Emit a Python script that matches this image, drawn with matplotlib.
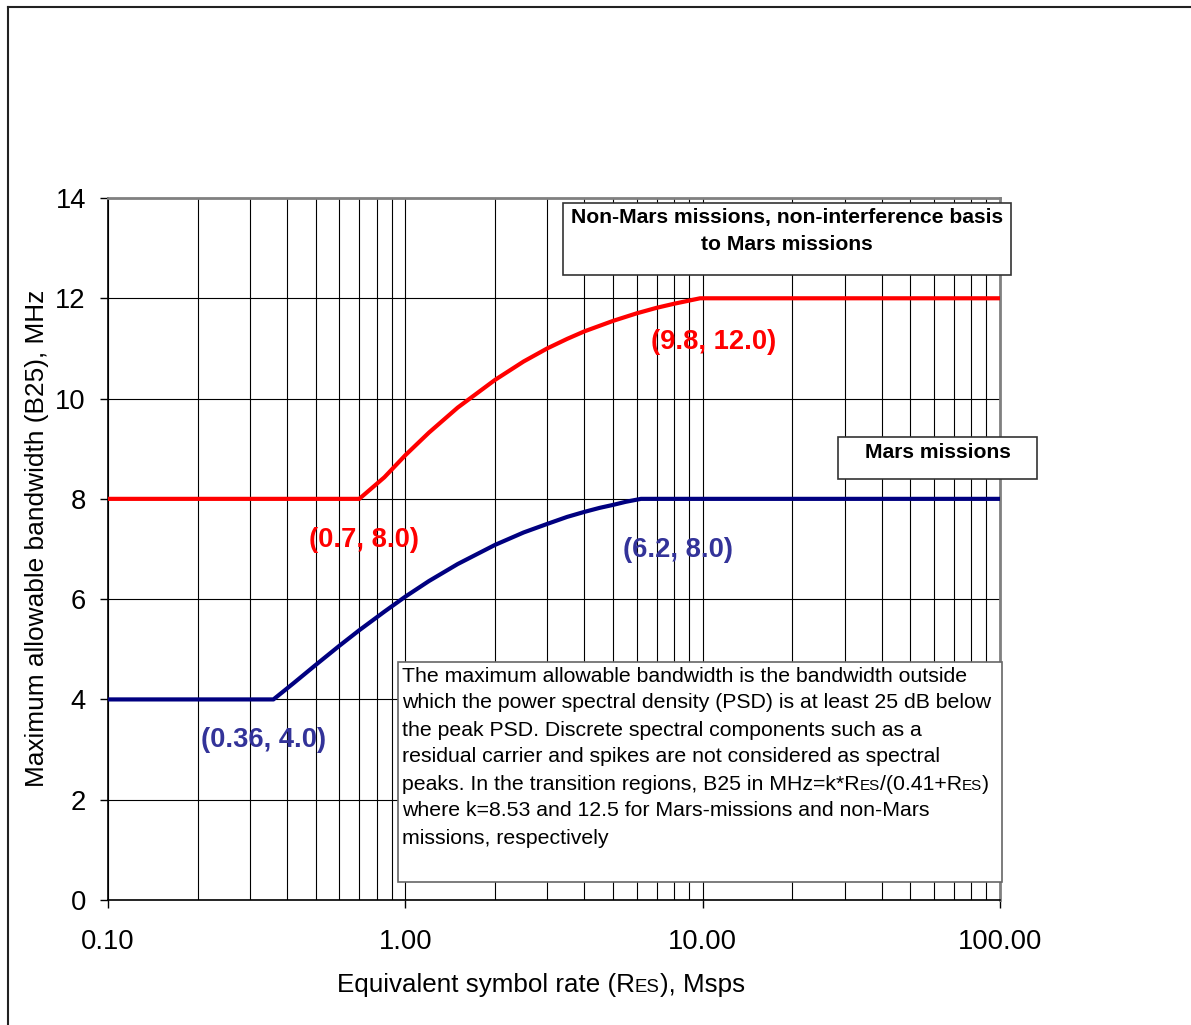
import re
import numpy as np
import matplotlib
matplotlib.use("Agg")
import matplotlib.pyplot as plt
from matplotlib.patches import Rectangle
from matplotlib.lines import Line2D
from matplotlib.offsetbox import TextArea, HPacker, AnnotationBbox
from matplotlib.ticker import FixedLocator, FuncFormatter, NullFormatter, LogLocator

plt.rcParams['font.family'] = ['Liberation Sans', 'DejaVu Sans']

# values
mars_rate = [0.1, 0.36, 0.42, 0.5, 0.6, 0.7, 0.85, 1.0, 1.2, 1.5, 2.0, 2.5, 3.0, 3.5,
             4.0, 4.5, 5.0, 5.5, 6.2, 100.0]
mars_bw = [4.0, 4.0, 4.32, 4.69, 5.07, 5.38, 5.75, 6.05, 6.36, 6.70, 7.08, 7.33, 7.50,
           7.64, 7.74, 7.82, 7.88, 7.94, 8.0, 8.0]
nonmars_rate = [0.1, 0.7, 0.85, 1.0, 1.2, 1.5, 2.0, 2.5, 3.0, 3.5, 4.0, 5.0, 6.0, 7.0,
                8.0, 9.8, 100.0]
nonmars_bw = [8.0, 8.0, 8.43, 8.87, 9.32, 9.82, 10.37, 10.74, 11.0, 11.19, 11.34, 11.55,
              11.70, 11.81, 11.89, 12.0, 12.0]

corner_x = [9.8, 0.7, 6.2, 0.36]
corner_y = [12.0, 8.0, 8.0, 4.0]
corner_text = ['(9.8, 12.0)', '(0.7, 8.0)', '(6.2, 8.0)', '(0.36, 4.0)']

x_ticks = [0.1, 1, 10, 100]
y_ticks = [0, 2, 4, 6, 8, 10, 12, 14]

nonmars_title = ['Non-Mars missions, non-interference basis', 'to Mars missions']
mars_title = 'Mars missions'
desc_lines = [
    "The maximum allowable bandwidth is the bandwidth outside",
    "which the power spectral density (PSD) is at least 25 dB below",
    "the peak PSD. Discrete spectral components such as a",
    "residual carrier and spikes are not considered as spectral",
    "peaks. In the transition regions, B25 in MHz=k*R{ES}/(0.41+R{ES})",
    "where k=8.53 and 12.5 for Mars-missions and non-Mars",
    "missions, respectively",
]

RED = '#ff0000'
NAVY = '#000080'
BLUE_TXT = '#333399'

W, H = 1191, 1025
fig = plt.figure(figsize=(W / 100, H / 100), dpi=100)


def fx(px):
    return px / W


def fy(py):
    return 1 - py / H


def small_caps(s, size, weight='normal'):
    parts = re.split(r'\{(\w+)\}', s)
    areas = []
    for i, p in enumerate(parts):
        if not p:
            continue
        fs = size * 0.72 if i % 2 else size
        areas.append(TextArea(p, textprops=dict(fontsize=fs, color='black', weight=weight)))
    return HPacker(children=areas, align='baseline', pad=0, sep=0)


def fig_box(x0, y0, x1, y1, ec='#333333'):
    fig.add_artist(Rectangle((fx(x0), fy(y1)), fx(x1 - x0), (y1 - y0) / H,
                             transform=fig.transFigure, facecolor='white',
                             edgecolor=ec, lw=1.2, zorder=5))


ax = fig.add_axes([fx(108), fy(900), fx(892), 702 / H])
ax.plot(nonmars_rate, nonmars_bw, color=RED, lw=3, zorder=3)
ax.plot(mars_rate, mars_bw, color=NAVY, lw=3, zorder=3)

ax.set_xscale('log')
ax.set_xlim(0.1, 100)
ax.set_ylim(0, 14)
ax.set_yticks(y_ticks)
ax.xaxis.set_major_locator(FixedLocator(x_ticks))
ax.xaxis.set_minor_locator(LogLocator(base=10, subs=np.arange(2, 10)))
ax.xaxis.set_minor_formatter(NullFormatter())
ax.xaxis.set_major_formatter(FuncFormatter(lambda v, p: f'{v:.2f}'))
ax.grid(True, which='both', axis='x', color='black', lw=0.8)
ax.grid(True, which='major', axis='y', color='black', lw=0.8)
ax.tick_params(axis='both', which='major', direction='out', length=6, width=1,
               labelsize=19.7, color='black')
ax.tick_params(axis='x', which='minor', length=0)
ax.tick_params(axis='x', pad=15)
ax.tick_params(axis='y', pad=10)
for s in ['top', 'right']:
    ax.spines[s].set_color('#808080')
    ax.spines[s].set_linewidth(2)
for s in ['left', 'bottom']:
    ax.spines[s].set_color('black')
    ax.spines[s].set_linewidth(1.2)

# corner labels
offsets = [(14, -44), (5, -41), (37, -51), (-10, -41)]
colors = [RED, RED, BLUE_TXT, BLUE_TXT]
for x, y, t, off, c in zip(corner_x, corner_y, corner_text, offsets, colors):
    ax.annotate(t, (x, y), xytext=off, textcoords='offset pixels',
                ha='center', va='center', fontsize=19.7, weight='bold', color=c, zorder=4)

# axis labels
fig.text(fx(37), fy(538), 'Maximum allowable bandwidth (B25), MHz', rotation=90,
         ha='center', va='center', fontsize=18.9)
xl = AnnotationBbox(small_caps('Equivalent symbol rate (R{ES}), Msps', 18.7),
                    (541, H - 985), xycoords='figure pixels', box_alignment=(0.5, 0.5),
                    frameon=False, pad=0)
fig.add_artist(xl)

# boxes
fig_box(563, 203, 1011, 275)
fig.text(fx(787), fy(217), nonmars_title[0], ha='center', va='center',
         fontsize=15.2, weight='bold', zorder=6)
fig.text(fx(787), fy(245), nonmars_title[1], ha='center', va='center',
         fontsize=15.2, weight='bold', zorder=6)

fig_box(838, 437, 1037, 479)
fig.text(fx(938), fy(452), mars_title, ha='center', va='center',
         fontsize=15.2, weight='bold', zorder=6)

fig_box(398, 662, 1002, 882, ec='#666666')
for i, line in enumerate(desc_lines):
    ab = AnnotationBbox(small_caps(line, 15.3), (402, H - (676 + 27 * i)),
                        xycoords='figure pixels', box_alignment=(0, 0.5),
                        frameon=False, pad=0, zorder=7)
    fig.add_artist(ab)

# outer frame
fig.add_artist(Line2D([fx(8), 1], [fy(7), fy(7)], transform=fig.transFigure,
                      color='#222222', lw=1.5))
fig.add_artist(Line2D([fx(8), fx(8)], [fy(7), 0], transform=fig.transFigure,
                      color='#222222', lw=1.5))

fig.savefig('out.png', dpi=100)
